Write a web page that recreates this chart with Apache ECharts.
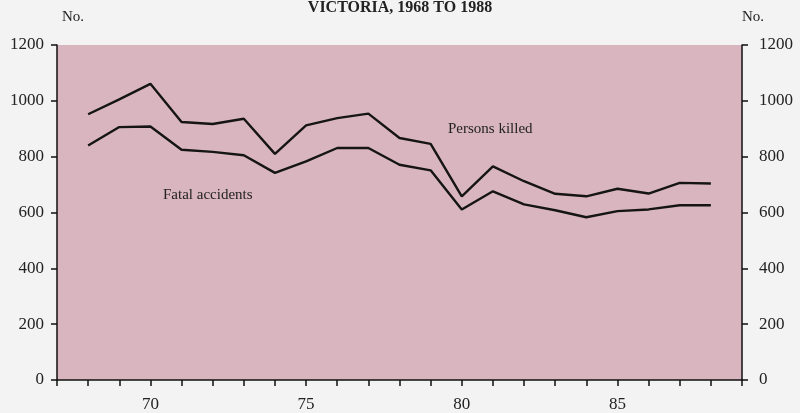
<!DOCTYPE html>
<html>
<head>
<meta charset="utf-8">
<script src="https://cdn.jsdelivr.net/npm/echarts@6/dist/echarts.min.js"></script>
<style>
  html, body { margin: 0; padding: 0; background: #f3f3f3; }
  #chart { width: 800px; height: 413px; }
</style>
</head>
<body>
<div id="chart"></div>
<script>
// 数据
var years = [1968, 1969, 1970, 1971, 1972, 1973, 1974, 1975, 1976, 1977, 1978,
             1979, 1980, 1981, 1982, 1983, 1984, 1985, 1986, 1987, 1988];
var personsKilled = [952, 1005, 1061, 924, 917, 936, 810, 912, 938, 954, 867,
                     846, 658, 765, 712, 667, 658, 685, 668, 706, 704];
var fatalAccidents = [840, 906, 908, 825, 817, 805, 742, 783, 831, 831, 771,
                      751, 611, 676, 629, 608, 583, 605, 611, 626, 626];
var yTicks = [0, 200, 400, 600, 800, 1000, 1200];

var serif = '"Liberation Serif", "Times New Roman", serif';

function pairs(vals) {
    return years.map(function (y, i) { return [y, vals[i]]; });
}

// y轴标签不要千分位逗号
function plain(v) { return String(v); }

var black = { color: '#111', width: 1.5 };

var myChart = echarts.init(document.getElementById('chart'));
var option = {
    backgroundColor: '#f3f3f3',
    animation: false,
    grid: {
        left: 57, right: 58, top: 45, bottom: 32,
        show: true,
        backgroundColor: '#d9b5bf',
        borderWidth: 0
    },
    xAxis: {
        type: 'value',
        min: 1967,
        max: 1989,
        interval: 1,
        axisLine: { show: true, lineStyle: black },
        axisTick: { show: true, length: 6, lineStyle: black },
        splitLine: { show: false },
        axisLabel: {
            margin: 16,
            color: '#222',
            fontFamily: serif,
            fontSize: 17,
            formatter: function (v) {
                return v % 5 === 0 ? String(v % 100) : '';
            }
        }
    },
    yAxis: [
        {
            type: 'value',
            position: 'left',
            min: yTicks[0],
            max: yTicks[yTicks.length - 1],
            interval: 200,
            axisLine: { show: true, lineStyle: black },
            axisTick: { show: true, length: 6, lineStyle: black },
            splitLine: { show: false },
            axisLabel: { margin: 13, color: '#222', fontFamily: serif, fontSize: 17, formatter: plain }
        },
        {
            type: 'value',
            position: 'right',
            min: yTicks[0],
            max: yTicks[yTicks.length - 1],
            interval: 200,
            axisLine: { show: true, lineStyle: black },
            axisTick: { show: true, length: 6, lineStyle: black },
            splitLine: { show: false },
            axisLabel: { margin: 17, color: '#222', fontFamily: serif, fontSize: 17, formatter: plain }
        }
    ],
    series: [
        {
            name: 'Persons killed',
            type: 'line',
            data: pairs(personsKilled),
            symbol: 'none',
            lineStyle: { color: '#151515', width: 2.4 }
        },
        {
            name: 'Fatal accidents',
            type: 'line',
            data: pairs(fatalAccidents),
            symbol: 'none',
            lineStyle: { color: '#151515', width: 2.4 }
        }
    ],
    graphic: [
        {
            type: 'text', left: 'center', top: 0,
            style: { text: 'VICTORIA, 1968 TO 1988', font: 'bold 16px ' + serif, fill: '#222' }
        },
        {
            type: 'text', left: 62, top: 10,
            style: { text: 'No.', font: '15px ' + serif, fill: '#222' }
        },
        {
            type: 'text', left: 742, top: 10,
            style: { text: 'No.', font: '15px ' + serif, fill: '#222' }
        },
        {
            type: 'text', left: 448, top: 122,
            style: { text: 'Persons killed', font: '15px ' + serif, fill: '#222' }
        },
        {
            type: 'text', left: 163, top: 188,
            style: { text: 'Fatal accidents', font: '15px ' + serif, fill: '#222' }
        }
    ]
};
myChart.setOption(option);
</script>
</body>
</html>
